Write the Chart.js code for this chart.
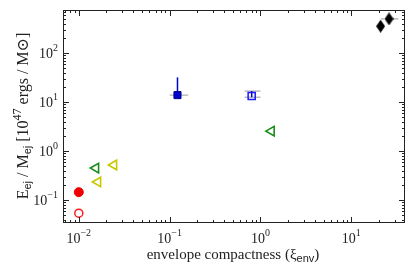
<!DOCTYPE html>
<html>
<head>
<meta charset="utf-8">
<script src="https://cdn.jsdelivr.net/npm/chart.js"></script>
<style>
  html, body { margin: 0; padding: 0; background: #fff; }
  #wrap { width: 415px; height: 277px; }
</style>
</head>
<body>
<div id="wrap"><canvas id="c" width="415" height="277"></canvas></div>
<script>
// data
const redFilled = [{ x: 0.01, y: 0.145 }];
const redOpen = [{ x: 0.01, y: 0.054 }];
const greenTri = [{ x: 0.0154, y: 0.45 }, { x: 1.32, y: 2.55 }];
const yellowTri = [{ x: 0.0162, y: 0.234 }, { x: 0.0243, y: 0.52 }];
const blueFilled = [{ x: 0.122, y: 13.9 }];
const blueOpen = [{ x: 0.80, y: 13.3 }];
const diamonds = [{ x: 21, y: 355 }, { x: 26, y: 500 }];

// error bars: [x, y, xlo, xhi, ylo, yhi, y-bar colour]
const errBars = [
  [0.122, 13.9, 0.10, 0.16, 13.9, 32, '#0000cc'],
  [0.80, 16.8, 0.67, 1.0, null, null, null],
  [0.80, 12.6, 0.67, 1.0, 12.6, 16.8, '#0000cc'],
  [26, 500, 21, 33, null, null, null]
];

const xTickPowers = [-2, -1, 0, 1];
const yTickPowers = [-1, 0, 1, 2];
const xRange = [0.0067, 39];
const yRange = [0.034, 760];

// elongated diamond marker
function diamondImg() {
  const c = document.createElement('canvas');
  c.width = 9; c.height = 13;
  const g = c.getContext('2d');
  g.fillStyle = '#000';
  g.beginPath();
  g.moveTo(4.5, 0); g.lineTo(9, 6.5); g.lineTo(4.5, 13); g.lineTo(0, 6.5);
  g.closePath(); g.fill();
  return c;
}

const serif = '"Liberation Serif", "DejaVu Serif", serif';
const sans = '"Liberation Sans", "DejaVu Sans", sans-serif';

function drawPow(ctx, base, exp, x, y, align) {
  ctx.font = '14px ' + serif;
  const wb = ctx.measureText(base).width;
  ctx.font = '10px ' + serif;
  const we = ctx.measureText(exp).width;
  let x0 = x;
  if (align === 'center') x0 = x - (wb + we) / 2;
  if (align === 'right') x0 = x - wb - we;
  ctx.textAlign = 'left';
  ctx.textBaseline = 'alphabetic';
  ctx.font = '14px ' + serif;
  ctx.fillText(base, x0, y);
  ctx.font = '10px ' + serif;
  ctx.fillText(exp, x0 + wb, y - 7);
}

const framePlugin = {
  id: 'frame',
  beforeDatasetsDraw(chart) {
    const ctx = chart.ctx, xs = chart.scales.x, ys = chart.scales.y;
    ctx.save();
    ctx.lineWidth = 1;
    errBars.forEach(e => {
      const px = xs.getPixelForValue(e[0]), py = ys.getPixelForValue(e[1]);
      ctx.strokeStyle = '#999';
      ctx.beginPath();
      ctx.moveTo(xs.getPixelForValue(e[2]), py);
      ctx.lineTo(xs.getPixelForValue(e[3]), py);
      ctx.stroke();
      if (e[4] !== null) {
        ctx.strokeStyle = e[6];
        ctx.lineWidth = 1.5;
        ctx.beginPath();
        ctx.moveTo(px, ys.getPixelForValue(e[4]));
        ctx.lineTo(px, ys.getPixelForValue(e[5]));
        ctx.stroke();
        ctx.lineWidth = 1;
      }
    });
    ctx.restore();
  },
  afterDraw(chart) {
    const ctx = chart.ctx, a = chart.chartArea;
    const xs = chart.scales.x, ys = chart.scales.y;
    ctx.save();
    ctx.strokeStyle = '#222';
    ctx.lineWidth = 1;
    ctx.strokeRect(a.left + 0.5, a.top + 0.5, a.right - a.left - 1, a.bottom - a.top - 1);
    ctx.beginPath();
    for (let p = -3; p <= 2; p++) {
      for (let m = 1; m < 10; m++) {
        const v = m * Math.pow(10, p);
        if (v < xRange[0] || v > xRange[1]) continue;
        const px = Math.round(xs.getPixelForValue(v)) + 0.5;
        const len = m === 1 ? 6 : 3;
        ctx.moveTo(px, a.bottom); ctx.lineTo(px, a.bottom - len);
        ctx.moveTo(px, a.top); ctx.lineTo(px, a.top + len);
      }
    }
    for (let p = -2; p <= 3; p++) {
      for (let m = 1; m < 10; m++) {
        const v = m * Math.pow(10, p);
        if (v < yRange[0] || v > yRange[1]) continue;
        const py = Math.round(ys.getPixelForValue(v)) + 0.5;
        const len = m === 1 ? 6 : 3;
        ctx.moveTo(a.left, py); ctx.lineTo(a.left + len, py);
        ctx.moveTo(a.right, py); ctx.lineTo(a.right - len, py);
      }
    }
    ctx.stroke();

    ctx.fillStyle = '#222';
    xTickPowers.forEach(p => {
      drawPow(ctx, '10', p < 0 ? '\u2212' + (-p) : String(p), xs.getPixelForValue(Math.pow(10, p)), a.bottom + 20, 'center');
    });
    yTickPowers.forEach(p => {
      drawPow(ctx, '10', p < 0 ? '\u2212' + (-p) : String(p), a.left - 5, ys.getPixelForValue(Math.pow(10, p)) + 5, 'right');
    });

    // x axis title
    ctx.textBaseline = 'alphabetic';
    ctx.textAlign = 'left';
    const xt = 'envelope compactness (\u03be';
    ctx.font = '15px ' + serif;
    const w1 = ctx.measureText(xt).width;
    ctx.font = '11px ' + sans;
    const w2 = ctx.measureText('env').width;
    ctx.font = '15px ' + serif;
    const w3 = ctx.measureText(')').width;
    let x0 = 233 - (w1 + w2 + w3) / 2, yb = 259;
    ctx.fillText(xt, x0, yb);
    ctx.font = '11px ' + sans;
    ctx.fillText('env', x0 + w1, yb + 3);
    ctx.font = '15px ' + serif;
    ctx.fillText(')', x0 + w1 + w2, yb);

    // y axis title
    ctx.translate(28, 116);
    ctx.rotate(-Math.PI / 2);
    const parts = [
      ['E', serif, 16, 0], ['ej', sans, 11, 3], [' / M', serif, 16, 0], ['ej', sans, 11, 3],
      [' [10', serif, 16, 0], ['47', serif, 12, -7], [' ergs / M\u2299]', serif, 16, 0]
    ];
    let tw = 0;
    parts.forEach(q => { ctx.font = q[2] + 'px ' + q[1]; tw += ctx.measureText(q[0]).width; });
    let cx = -tw / 2;
    parts.forEach(q => {
      ctx.font = q[2] + 'px ' + q[1];
      ctx.fillText(q[0], cx, q[3]);
      cx += ctx.measureText(q[0]).width;
    });
    ctx.restore();
  }
};

new Chart(document.getElementById('c'), {
  type: 'scatter',
  data: {
    datasets: [
      { data: redFilled, pointStyle: 'circle', pointRadius: 4.5, backgroundColor: '#ee0000', borderColor: '#ee0000', borderWidth: 1 },
      { data: redOpen, pointStyle: 'circle', pointRadius: 4, backgroundColor: '#fff', borderColor: '#ff1a1a', borderWidth: 1.5 },
      { data: greenTri, pointStyle: 'triangle', rotation: -90, pointRadius: 5.5, backgroundColor: 'rgba(0,0,0,0)', borderColor: '#1a8c1a', borderWidth: 1.6 },
      { data: yellowTri, pointStyle: 'triangle', rotation: -90, pointRadius: 5.5, backgroundColor: 'rgba(0,0,0,0)', borderColor: '#c8c800', borderWidth: 1.6 },
      { data: blueFilled, pointStyle: 'rect', pointRadius: 5, backgroundColor: '#0000cc', borderColor: '#000088', borderWidth: 1 },
      { data: blueOpen, pointStyle: 'rect', pointRadius: 5, backgroundColor: 'rgba(0,0,0,0)', borderColor: '#1a1aff', borderWidth: 1.5 },
      { data: diamonds, pointStyle: diamondImg(), pointRadius: 6 }
    ]
  },
  options: {
    responsive: false,
    animation: false,
    events: [],
    layout: { padding: { left: 63, top: 10, right: 10, bottom: 54 } },
    plugins: { legend: { display: false }, tooltip: { enabled: false } },
    scales: {
      x: { type: 'logarithmic', min: xRange[0], max: xRange[1], display: false },
      y: { type: 'logarithmic', min: yRange[0], max: yRange[1], display: false }
    }
  },
  plugins: [framePlugin]
});
</script>
</body>
</html>
